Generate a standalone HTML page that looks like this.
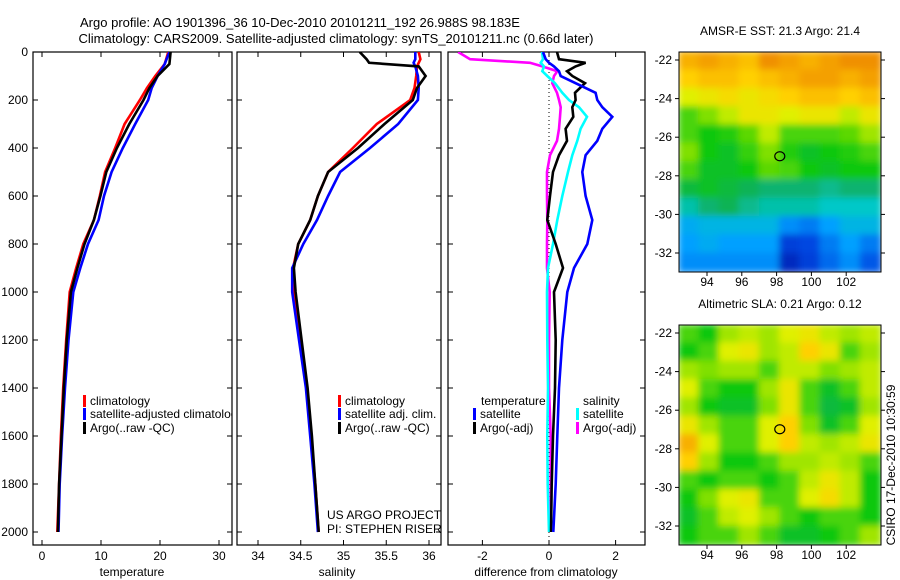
<!DOCTYPE html>
<html><head><meta charset="utf-8"><style>
html,body{margin:0;padding:0;background:#fff;}
svg{display:block;font-family:"Liberation Sans",sans-serif;}
</style></head><body>
<svg id="fig" width="900" height="580" viewBox="0 0 900 580">
<defs>
<filter id="blur" x="-5%" y="-5%" width="110%" height="110%"><feGaussianBlur stdDeviation="3.5"/></filter>
<clipPath id="cp1"><rect x="33" y="52" width="199" height="493"/></clipPath>
<clipPath id="cp2"><rect x="237" y="52" width="204" height="493"/></clipPath>
<clipPath id="cp3"><rect x="448" y="52" width="197" height="493"/></clipPath>
<clipPath id="cm1"><rect x="679" y="52" width="202" height="220"/></clipPath>
<clipPath id="cm2"><rect x="679" y="325" width="202" height="220"/></clipPath>
</defs>
<text x="300" y="27" font-size="13" text-anchor="middle">Argo profile: AO 1901396_36 10-Dec-2010 20101211_192 26.988S 98.183E</text>
<text x="336" y="43" font-size="13" text-anchor="middle">Climatology: CARS2009. Satellite-adjusted climatology: synTS_20101211.nc (0.66d later)</text>
<g id="g"></g>
</svg>
<script>
// ---- profile data ----
const depthsT = [0,50,100,150,200,300,400,500,600,700,800,900,1000,1200,1400,1600,1800,2000];
const tempClim = [21.4,20.8,19.2,17.8,16.6,14.0,12.4,10.7,9.8,8.8,7.0,5.8,4.7,4.1,3.6,3.2,2.9,2.6];
const tempSat  = [21.6,20.8,19.6,18.6,18.0,15.8,13.7,11.8,10.5,9.6,7.8,6.5,5.3,4.5,3.9,3.4,3.0,2.8];
const tempArgo = [21.8,21.6,19.6,18.2,17.2,14.8,12.7,10.9,9.9,8.8,7.2,6.0,4.9,4.2,3.7,3.3,2.9,2.7];
const depthsS = [0,30,45,60,100,150,200,300,400,500,600,700,800,900,1000,1200,1400,1600,1800,2000];
const salClim = [35.88,35.9,35.88,35.86,35.85,35.83,35.78,35.39,35.11,34.82,34.70,34.61,34.47,34.41,34.42,34.50,34.57,34.62,34.67,34.71];
const salSat  = [35.84,35.84,35.82,35.84,35.87,35.88,35.87,35.64,35.31,34.96,34.82,34.69,34.53,34.40,34.40,34.48,34.56,34.61,34.66,34.70];
const salArgo = [35.19,35.27,35.3,35.88,35.96,35.86,35.81,35.48,35.17,34.82,34.70,34.61,34.47,34.42,34.44,34.51,34.58,34.63,34.67,34.71];
const depthsD = [0,30,45,60,80,100,130,170,200,230,270,320,370,430,500,600,700,800,900,1000,1200,1400,1600,1800,2000];
const diffTSat  = [-0.18,-0.1,0.0,0.15,0.3,0.35,0.8,1.4,1.45,1.6,1.9,1.6,1.45,1.1,1.0,1.1,1.3,1.15,0.75,0.55,0.4,0.3,0.25,0.2,0.13];
const diffTArgo = [0.24,0.3,1.1,0.8,0.54,0.7,1.08,0.78,0.8,0.7,0.73,0.5,0.54,0.3,0.12,0.03,-0.05,0.2,0.42,0.15,0.2,0.18,0.12,0.08,0.06];
const diffSSat  = [-0.21,-0.18,-0.25,-0.15,-0.2,-0.05,0.18,0.4,0.6,0.9,1.14,0.95,0.85,0.7,0.57,0.4,0.25,0.12,-0.03,-0.06,-0.05,-0.03,-0.05,-0.04,0.0];
const diffSArgo = [-2.73,-2.37,-0.57,-0.2,0.25,0.15,0.1,0.24,0.3,0.35,0.33,0.3,0.24,0.03,-0.06,-0.06,-0.05,-0.06,-0.06,0.02,0.0,0.0,0.05,0.05,0.05];
const depthTicks = [0,200,400,600,800,1000,1200,1400,1600,1800,2000];
const tempTicks = [0,10,20,30];
const salTicks = [34,34.5,35,35.5,36];
const diffTicks = [-2,0,2];
const lonTicks = [94,96,98,100,102];
const latTicks = [-22,-24,-26,-28,-30,-32];
// ---- map data (values 0..1 on colour scale), rows north->south ----
const sstGrid = [
[.74,.76,.74,.72,.78,.76,.74,.76,.78,.78],
[.70,.72,.72,.70,.72,.74,.76,.76,.74,.76],
[.64,.66,.68,.66,.68,.70,.72,.72,.70,.72],
[.55,.58,.62,.66,.66,.64,.66,.66,.62,.66],
[.55,.52,.53,.56,.62,.55,.55,.55,.56,.60],
[.58,.52,.50,.54,.58,.53,.50,.52,.53,.55],
[.55,.50,.50,.52,.56,.55,.52,.50,.52,.52],
[.48,.50,.48,.46,.44,.44,.44,.42,.44,.44],
[.40,.44,.46,.42,.40,.40,.40,.38,.38,.38],
[.32,.34,.34,.34,.34,.28,.26,.30,.34,.34],
[.30,.32,.30,.30,.30,.18,.20,.26,.30,.26],
[.28,.28,.28,.28,.28,.12,.18,.24,.28,.22]];
const slaGrid = [
[.55,.52,.60,.62,.60,.64,.66,.62,.60,.62],
[.52,.55,.64,.66,.60,.62,.70,.66,.55,.60],
[.60,.58,.60,.60,.55,.62,.62,.58,.60,.62],
[.64,.55,.52,.52,.60,.66,.55,.50,.55,.62],
[.60,.52,.50,.50,.58,.66,.55,.48,.50,.60],
[.66,.60,.55,.55,.64,.70,.58,.50,.55,.64],
[.74,.64,.55,.55,.64,.70,.62,.60,.62,.66],
[.70,.60,.52,.52,.55,.60,.60,.62,.60,.55],
[.55,.52,.55,.55,.52,.55,.62,.66,.62,.52],
[.52,.58,.64,.66,.55,.55,.64,.68,.62,.52],
[.50,.55,.62,.64,.60,.55,.52,.55,.55,.52],
[.52,.55,.55,.60,.55,.50,.50,.52,.55,.60]];
const floatLon = 98.183, floatLat = -26.988;

const NS="http://www.w3.org/2000/svg";
const G=document.getElementById('g');
function mk(tag,attrs,parent){const e=document.createElementNS(NS,tag);for(const k in attrs)e.setAttribute(k,attrs[k]);(parent||G).appendChild(e);return e;}
function txt(x,y,s,size,anchor,parent){const t=mk('text',{x:x,y:y,'font-size':size,'text-anchor':anchor||'start'},parent);t.textContent=s;return t;}

const yD = d => 52 + 0.24*d;
const xT = v => 42 + 5.9*v;
const xS = v => 258 + 85.5*(v-34);
const xDf = v => 549 + 33.3*v;

function panel(x0,x1,name){
  const r=mk('rect',{x:x0,y:52,width:x1-x0,height:493,fill:'none',stroke:'#000','stroke-width':1.2});
  
  
  depthTicks.forEach(d=>{mk('line',{x1:x0,x2:x0+5,y1:yD(d),y2:yD(d),stroke:'#000'});mk('line',{x1:x1,x2:x1-5,y1:yD(d),y2:yD(d),stroke:'#000'});});
}
function line(xs,ds,xf,color,clip,name){
  const p=xs.map((v,i)=>xf(v).toFixed(1)+','+yD(ds[i]).toFixed(1)).join(' ');
  const e=mk('polyline',{points:p,fill:'none',stroke:color,'stroke-width':2.6,'stroke-linejoin':'miter','clip-path':'url(#'+clip+')'});
  
  
}
function xticks(ticks,xf){ticks.forEach(v=>{const x=xf(v);mk('line',{x1:x,x2:x,y1:545,y2:540,stroke:'#000'});mk('line',{x1:x,x2:x,y1:52,y2:57,stroke:'#000'});const t=txt(x,560,String(v),12,'middle');});}

// Panel 1 temperature
panel(33,232,'temperature-panel');
depthTicks.forEach(d=>{const t=txt(28,yD(d)+4,String(d),12,'end');});
xticks(tempTicks,xT);
line(tempClim,depthsT,xT,'#f00','cp1','temp-climatology-line');
line(tempSat,depthsT,xT,'#00f','cp1','temp-satellite-line');
line(tempArgo,depthsT,xT,'#000','cp1','temp-argo-line');
let t=txt(132,576,'temperature',12,'middle');

// Panel 2 salinity
panel(237,441,'salinity-panel');
xticks(salTicks,xS);
line(salClim,depthsS,xS,'#f00','cp2','sal-climatology-line');
line(salSat,depthsS,xS,'#00f','cp2','sal-satellite-line');
line(salArgo,depthsS,xS,'#000','cp2','sal-argo-line');
t=txt(337,576,'salinity',12,'middle');

// Panel 3 differences
panel(448,645,'difference-panel');
xticks(diffTicks,xDf);
mk('line',{x1:xDf(0),x2:xDf(0),y1:52,y2:545,stroke:'#000','stroke-dasharray':'1,3'});
line(diffSArgo,depthsD,xDf,'#f0f','cp3','sal-argo-diff-line');
line(diffSSat,depthsD,xDf,'#0ff','cp3','sal-satellite-diff-line');
line(diffTArgo,depthsD,xDf,'#000','cp3','temp-argo-diff-line');
line(diffTSat,depthsD,xDf,'#00f','cp3','temp-satellite-diff-line');
t=txt(546,576,'difference from climatology',12,'middle');

// legends
function leg(x,y,color,label,clip,name){
  const g=mk('g',{'clip-path':clip?'url(#'+clip+')':''});
  
  
  if(color) mk('rect',{x:x,y:y-10,width:3,height:12,fill:color},g);
  txt(x+7,y,label,12,'start',g);
}
leg(83,405,'#f00','climatology','cp1','legend-climatology');
leg(83,418,'#00f','satellite-adjusted climatology','cp1','legend-satellite-adjusted');
leg(83,432,'#000','Argo(..raw -QC)','cp1','legend-argo');
leg(338,405,'#f00','climatology','cp2','legend-sal-climatology');
leg(338,418,'#00f','satellite adj. clim.','cp2','legend-sal-satellite');
leg(338,432,'#000','Argo(..raw -QC)','cp2','legend-sal-argo');
t=txt(481,405,'temperature',12);
t=txt(583,405,'salinity',12);
leg(473,418,'#00f','satellite',null,'legend-temp-satellite');
leg(473,432,'#000','Argo(-adj)',null,'legend-temp-argo');
leg(576,418,'#0ff','satellite',null,'legend-sal-satellite-diff');
leg(576,432,'#f0f','Argo(-adj)',null,'legend-sal-argo-diff');
t=txt(327,519,'US ARGO PROJECT',12);
t=txt(327,533,'PI: STEPHEN RISER',12);

// ---- maps ----
const stops=[[0,[0,0,140]],[.2,[0,70,225]],[.3,[0,160,255]],[.38,[0,200,200]],[.45,[16,176,96]],[.52,[16,200,16]],[.58,[128,224,0]],[.64,[224,240,0]],[.7,[255,208,0]],[.78,[240,144,0]],[1,[200,60,0]]];
function cmap(v){for(let i=1;i<stops.length;i++){if(v<=stops[i][0]){const a=stops[i-1],b=stops[i],f=(v-a[0])/(b[0]-a[0]);const c=a[1].map((x,k)=>Math.round(x+(b[1][k]-x)*f));return 'rgb('+c.join(',')+')';}}return 'rgb(200,60,0)';}
const xL = lon => 707 + 17.4*(lon-94);
function drawMap(grid,top,name,clip,title){
  const H=220, latY = lat => top + 8 + 19.3*(-22-lat);
  const gc=mk('g',{'clip-path':'url(#'+clip+')'});
  
  
  const gi=mk('g',{filter:'url(#blur)'},gc);
  const rows=grid.length, cols=grid[0].length, cw=202/cols, ch=H/rows;
  grid.forEach((row,r)=>row.forEach((v,c)=>{
    const cell=mk('rect',{x:(679+c*cw-1).toFixed(1),y:(top+r*ch-1).toFixed(1),width:(cw+2).toFixed(1),height:(ch+2).toFixed(1),fill:cmap(v)},gi);
    
    
  }));
  mk('rect',{x:679,y:top,width:202,height:H,fill:'none',stroke:'#000','stroke-width':1});
  const c=mk('ellipse',{cx:xL(floatLon),cy:latY(floatLat),rx:5,ry:4.5,fill:'none',stroke:'#000','stroke-width':1.2});
  
  
  latTicks.forEach(l=>{const y=latY(l);mk('line',{x1:881,x2:885,y1:y,y2:y,stroke:'#000'});mk('line',{x1:679,x2:675,y1:y,y2:y,stroke:'#000'});const tt=txt(672,y+4,String(l),12,'end');});
  lonTicks.forEach(l=>{const x=xL(l);mk('line',{x1:x,x2:x,y1:top+H,y2:top+H+4,stroke:'#000'});const tt=txt(x,top+H+14,String(l),12,'middle');});
  const tt=txt(780,top-17,title,12,'middle');
}
drawMap(sstGrid,52,'sst-map','cm1','AMSR-E SST: 21.3 Argo: 21.4');
drawMap(slaGrid,325,'sla-map','cm2','Altimetric SLA: 0.21 Argo: 0.12');
t=txt(0,0,'CSIRO 17-Dec-2010 10:30:59',12,'middle');
t.setAttribute('transform','translate(895,465) rotate(-90)');


</script>
</body></html>
